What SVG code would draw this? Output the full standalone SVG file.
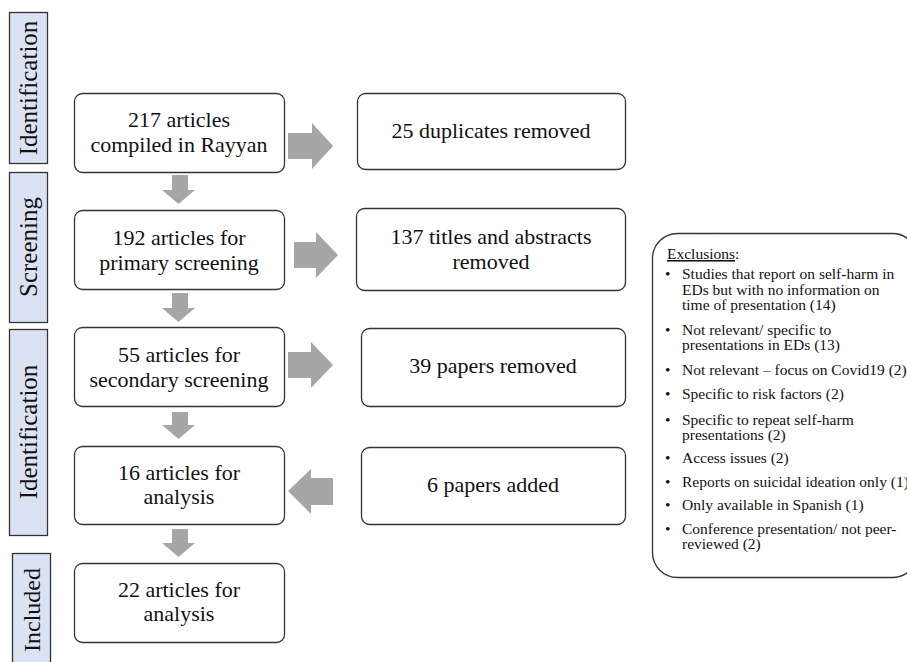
<svg xmlns="http://www.w3.org/2000/svg" width="907" height="662" viewBox="0 0 907 662" font-family="'Liberation Serif', 'DejaVu Serif', serif">
<style>
.phase{fill:#dae3f3;stroke:#333;stroke-width:1.3}
.box{fill:#fff;stroke:#333;stroke-width:1.3}
.arr{fill:#a6a6a6}
text{font-family:'Liberation Serif','DejaVu Serif',serif;fill:#111}
.bt{font-size:22px;text-anchor:middle}
.pt{font-size:25px;text-anchor:middle}
.et{font-size:15.5px}
</style>
<rect width="907" height="662" fill="#fff"/>
<g id="phase-identification-1">
<rect class="phase" x="9.5" y="12.5" width="38" height="151"/>
<text class="pt" transform="translate(36.5 88) rotate(-90)">Identification</text>
</g>
<g id="phase-screening">
<rect class="phase" x="9.5" y="172.5" width="38" height="150"/>
<text class="pt" transform="translate(36.5 247) rotate(-90)">Screening</text>
</g>
<g id="phase-identification-2">
<rect class="phase" x="9.5" y="329.5" width="38" height="206"/>
<text class="pt" transform="translate(36.5 432) rotate(-90)">Identification</text>
</g>
<g id="phase-included">
<rect class="phase" x="12.5" y="553.5" width="38" height="120"/>
<text font-size="24" text-anchor="middle" transform="translate(39.5 610) rotate(-90)">Included</text>
</g>
<g id="n217">
<rect class="box" x="74.5" y="93.5" width="210" height="79" rx="8"/>
<text class="bt" x="179" y="127">217 articles</text>
<text class="bt" x="179" y="152">compiled in Rayyan</text>
</g>
<g id="n25">
<rect class="box" x="357.5" y="93.5" width="268" height="76" rx="8"/>
<text class="bt" x="491" y="138">25 duplicates removed</text>
</g>
<g id="n192">
<rect class="box" x="74.5" y="210.5" width="210" height="79" rx="8"/>
<text class="bt" x="179" y="245">192 articles for</text>
<text class="bt" x="179" y="270">primary screening</text>
</g>
<g id="n137">
<rect class="box" x="356.5" y="208.5" width="269" height="82" rx="8"/>
<text class="bt" x="491" y="244">137 titles and abstracts</text>
<text class="bt" x="491" y="269">removed</text>
</g>
<g id="n55">
<rect class="box" x="74.5" y="327.5" width="210" height="79" rx="8"/>
<text class="bt" x="179" y="362">55 articles for</text>
<text class="bt" x="179" y="387">secondary screening</text>
</g>
<g id="n39">
<rect class="box" x="361.5" y="328.5" width="264" height="78" rx="8"/>
<text class="bt" x="493" y="373">39 papers removed</text>
</g>
<g id="n16">
<rect class="box" x="74.5" y="446.5" width="210" height="78" rx="8"/>
<text class="bt" x="179" y="480">16 articles for</text>
<text class="bt" x="179" y="504">analysis</text>
</g>
<g id="n6">
<rect class="box" x="361.5" y="447.5" width="264" height="77" rx="8"/>
<text class="bt" x="493" y="492">6 papers added</text>
</g>
<g id="n22">
<rect class="box" x="74.5" y="563.5" width="210" height="79" rx="8"/>
<text class="bt" x="179" y="597">22 articles for</text>
<text class="bt" x="179" y="621">analysis</text>
</g>
<g id="exclusions">
<rect class="box" x="652.5" y="233.5" width="265" height="344" rx="25"/>
<text class="et" x="667" y="259"><tspan text-decoration="underline">Exclusions</tspan>:</text>
<text class="et" x="665" y="279">•</text><text class="et" x="682" y="279">Studies that report on self-harm in</text>
<text class="et" x="682" y="295">EDs but with no information on</text>
<text class="et" x="682" y="310">time of presentation (14)</text>
<text class="et" x="665" y="335">•</text><text class="et" x="682" y="335">Not relevant/ specific to</text>
<text class="et" x="682" y="350">presentations in EDs (13)</text>
<text class="et" x="665" y="375">•</text><text class="et" x="682" y="375">Not relevant – focus on Covid19 (2)</text>
<text class="et" x="665" y="399">•</text><text class="et" x="682" y="399">Specific to risk factors (2)</text>
<text class="et" x="665" y="425">•</text><text class="et" x="682" y="425">Specific to repeat self-harm</text>
<text class="et" x="682" y="440">presentations (2)</text>
<text class="et" x="665" y="463">•</text><text class="et" x="682" y="463">Access issues (2)</text>
<text class="et" x="665" y="487">•</text><text class="et" x="682" y="487">Reports on suicidal ideation only (1)</text>
<text class="et" x="665" y="510">•</text><text class="et" x="682" y="510">Only available in Spanish (1)</text>
<text class="et" x="665" y="534">•</text><text class="et" x="682" y="534">Conference presentation/ not peer-</text>
<text class="et" x="682" y="549">reviewed (2)</text>
</g>
<g id="connectors">
<polygon class="arr" points="288,133 312,133 312,123 333,146 312,169 312,159 288,159"/>
<polygon class="arr" points="294,242 316,242 316,232 338,255 316,278 316,268 294,268"/>
<polygon class="arr" points="288,352 311,352 311,342 333,365 311,388 311,378 288,378"/>
<polygon class="arr" points="333,478 311,478 311,469 288,491 311,514 311,505 333,505"/>
<polygon class="arr" points="172,175 188,175 188,190 195,190 178.5,204 162,190 172,190"/>
<polygon class="arr" points="172,293 188,293 188,308 195,308 178.5,322 162,308 172,308"/>
<polygon class="arr" points="172,412 188,412 188,425 195,425 178.5,439 162,425 172,425"/>
<polygon class="arr" points="172,529 188,529 188,543 195,543 178.5,557 162,543 172,543"/>
</g>
</svg>
